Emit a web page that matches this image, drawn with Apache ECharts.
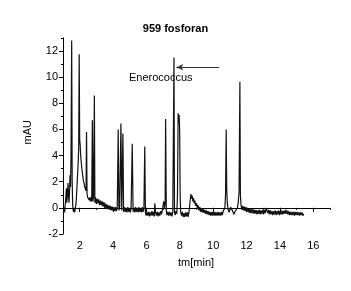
<!DOCTYPE html>
<html>
<head>
<meta charset="utf-8">
<script src="https://cdn.jsdelivr.net/npm/echarts@6/dist/echarts.min.js"></script>
<style>
  html, body { margin: 0; padding: 0; background: #fff; }
  #chart { width: 351px; height: 291px; }
</style>
</head>
<body>
<div id="chart"></div>
<script>
// Chromatogram "959 fosforan"
const timeMin = [
  1.05, 1.08, 1.1, 1.13, 1.16, 1.2, 1.23, 1.26, 1.3, 1.33, 1.36, 1.39, 1.42, 1.45, 1.48, 1.52, 1.55, 1.58, 1.62, 1.66,
  1.7, 1.74, 1.78, 1.82, 1.86, 1.9, 1.94, 1.97, 2.0, 2.03, 2.06, 2.1, 2.14, 2.18, 2.22, 2.26, 2.3, 2.34, 2.38, 2.41,
  2.44, 2.48, 2.52, 2.56, 2.6, 2.64, 2.68, 2.72, 2.76, 2.79, 2.83, 2.88, 2.91, 2.95, 3.0, 3.05, 3.1, 3.15, 3.2, 3.25,
  3.3, 3.35, 3.4, 3.45, 3.5, 3.55, 3.6, 3.65, 3.7, 3.75, 3.8, 3.85, 3.9, 3.95, 4.0, 4.05, 4.1, 4.15, 4.2, 4.25,
  4.31, 4.35, 4.4, 4.47, 4.52, 4.59, 4.63, 4.68, 4.73, 4.78, 4.83, 4.88, 4.93, 4.98, 5.03, 5.08, 5.15, 5.2, 5.25, 5.3,
  5.35, 5.4, 5.45, 5.5, 5.55, 5.6, 5.65, 5.7, 5.75, 5.8, 5.85, 5.9, 5.94, 5.98, 6.03, 6.08, 6.13, 6.18, 6.23, 6.28,
  6.33, 6.38, 6.43, 6.48, 6.5, 6.55, 6.6, 6.65, 6.7, 6.75, 6.8, 6.85, 6.9, 6.95, 7.0, 7.04, 7.08, 7.12, 7.15, 7.19,
  7.23, 7.28, 7.33, 7.38, 7.43, 7.48, 7.53, 7.58, 7.62, 7.65, 7.68, 7.72, 7.77, 7.82, 7.86, 7.9, 7.93, 7.96, 7.99, 8.02,
  8.05, 8.1, 8.15, 8.2, 8.25, 8.3, 8.35, 8.4, 8.45, 8.5, 8.55, 8.6, 8.64, 8.67, 8.7, 8.74, 8.78, 8.82, 8.86, 8.9,
  8.95, 9.0, 9.05, 9.1, 9.15, 9.2, 9.25, 9.3, 9.35, 9.4, 9.45, 9.5, 9.55, 9.6, 9.65, 9.7, 9.75, 9.8, 9.85, 9.9,
  9.95, 10.0, 10.05, 10.1, 10.15, 10.2, 10.25, 10.3, 10.35, 10.4, 10.45, 10.5, 10.55, 10.6, 10.65, 10.7, 10.74, 10.78, 10.81, 10.85,
  10.9, 10.95, 11.0, 11.05, 11.1, 11.15, 11.2, 11.25, 11.3, 11.35, 11.4, 11.45, 11.5, 11.55, 11.6, 11.63, 11.67, 11.72, 11.77, 11.82,
  11.87, 11.92, 11.97, 12.02, 12.07, 12.12, 12.17, 12.22, 12.27, 12.32, 12.37, 12.42, 12.47, 12.52, 12.57, 12.62, 12.67, 12.72, 12.77, 12.82,
  12.87, 12.92, 12.97, 13.02, 13.07, 13.12, 13.17, 13.22, 13.27, 13.32, 13.37, 13.42, 13.47, 13.52, 13.57, 13.62, 13.67, 13.72, 13.77, 13.82,
  13.87, 13.92, 13.97, 14.02, 14.07, 14.12, 14.17, 14.22, 14.27, 14.32, 14.37, 14.42, 14.47, 14.52, 14.57, 14.62, 14.67, 14.72, 14.77, 14.82,
  14.87, 14.92, 14.97, 15.02, 15.07, 15.12, 15.17, 15.22, 15.27, 15.32, 15.37, 15.42
]
const absMAU = [
  -0.25, 0.05, -0.35, 0.2, 0.6, 1.5, 0.4, 0.9, 1.9, 1.0, 0.4, 1.2, 2.5, 1.6, 4.0, 12.8, 2.0, 0.2, -0.3, 0.0,
  -0.35, 0.0, 0.3, 1.2, 2.2, 3.2, 4.5, 11.75, 5.2, 4.8, 4.0, 3.4, 2.9, 2.5, 2.1, 1.9, 1.6, 1.5, 1.3, 5.8,
  1.1, 0.8, 0.9, 0.6, 0.8, 0.5, 0.8, 0.5, 6.7, 0.5, 0.8, 8.6, 0.4, 0.8, 0.3, 0.7, 0.35, 0.65, 0.2, 0.55,
  0.2, 0.5, 0.1, 0.45, 0.0, 0.35, -0.05, 0.25, -0.1, 0.2, -0.15, 0.15, -0.2, 0.1, -0.25, 0.05, -0.25, 0.05, -0.25, 0.05,
  6.0, -0.2, 0.1, 6.45, -0.2, 5.7, -0.3, 0.05, -0.3, 0.0, -0.35, 0.05, -0.3, 0.0, -0.35, -0.05, 4.9, -0.3, 0.0, -0.35,
  0.05, -0.3, 0.0, -0.35, 0.05, -0.3, -0.05, -0.35, 0.05, -0.3, 0.0, 4.7, -0.35, -0.6, -0.3, -0.6, -0.3, -0.65, -0.35, -0.6,
  -0.25, -0.6, -0.3, -0.65, 0.35, -0.35, -0.6, -0.3, -0.65, -0.35, -0.6, -0.25, -0.5, -0.2, 0.2, 0.5, 0.0, 0.4, 6.8, -0.2,
  -0.55, -0.3, -0.6, -0.3, -0.6, -0.35, -0.65, -0.3, -0.2, 11.5, -0.3, -0.55, -0.25, -0.45, 1.0, 7.25, 6.5, 7.1, 6.0, 1.0,
  -0.3, -0.6, -0.3, -0.7, -0.4, -0.7, -0.35, -0.65, -0.35, -0.7, -0.35, 0.3, 0.8, 1.05, 0.7, 0.95, 0.5, 0.75, 0.35, 0.55,
  0.15, 0.35, 0.0, 0.2, -0.2, 0.05, -0.3, -0.05, -0.35, -0.1, -0.4, -0.15, -0.45, -0.2, -0.5, -0.25, -0.55, -0.3, -0.6, -0.3,
  -0.6, -0.3, -0.6, -0.3, -0.6, -0.35, -0.6, -0.3, -0.6, -0.35, -0.6, -0.3, -0.55, -0.25, -0.4, 0.0, 1.0, 6.0, 1.5, 0.3,
  -0.15, -0.35, -0.15, 0.05, 0.1, -0.2, -0.35, -0.5, -0.3, -0.45, -0.2, 0.0, 0.4, 1.2, 9.65, 1.0, 0.2, -0.15, 0.15, -0.2,
  0.1, -0.25, 0.05, -0.3, 0.0, -0.35, -0.05, -0.4, -0.1, -0.4, -0.1, -0.45, -0.15, -0.45, -0.15, -0.5, -0.2, -0.45, -0.15, -0.5,
  -0.2, -0.45, -0.15, -0.5, -0.15, -0.4, 0.0, -0.15, -0.4, -0.15, -0.5, -0.2, -0.5, -0.25, -0.55, -0.25, -0.5, -0.2, -0.55, -0.25,
  -0.5, -0.2, -0.55, -0.25, -0.5, -0.2, -0.5, -0.25, -0.45, -0.15, -0.45, -0.2, -0.5, -0.25, -0.55, -0.3, -0.55, -0.3, -0.55, -0.3,
  -0.6, -0.3, -0.55, -0.3, -0.55, -0.35, -0.6, -0.35, -0.55, -0.35, -0.6, -0.45
]
const xTickLabels = [2, 4, 6, 8, 10, 12, 14, 16]
const yTickLabels = [-2, 0, 2, 4, 6, 8, 10, 12]

const font = '"Liberation Sans", Arial, sans-serif'
const chart = echarts.init(document.getElementById('chart'), null, { renderer: 'canvas' })

const axisBase = {
  type: 'value',
  axisLine: { show: true, lineStyle: { color: '#000', width: 1 } },
  splitLine: { show: false },
}

chart.setOption({
  animation: false,
  backgroundColor: '#fff',
  grid: { left: 63, top: 38, right: 21, bottom: 57 },
  xAxis: [
    {
      ...axisBase, min: 1, max: 17,
      axisTick: { show: true, length: 4, lineStyle: { color: '#000' }, customValues: xTickLabels },
      axisLabel: { show: true, customValues: xTickLabels, color: '#000', fontFamily: font, fontSize: 11, margin: 6 },
    },
    {
      // minor ticks at every minute
      ...axisBase, min: 1, max: 17, interval: 1, position: 'bottom',
      axisLine: { show: false },
      axisTick: { show: true, length: 2, lineStyle: { color: '#000' } },
      axisLabel: { show: false },
    },
  ],
  yAxis: [
    {
      ...axisBase, min: -2, max: 13,
      axisTick: { show: true, length: 4, lineStyle: { color: '#000' }, customValues: yTickLabels },
      axisLabel: { show: true, customValues: yTickLabels, color: '#000', fontFamily: font, fontSize: 11, margin: 5 },
    },
    {
      ...axisBase, min: -2, max: 13, interval: 1, position: 'left',
      axisLine: { show: false },
      axisTick: { show: true, length: 2, lineStyle: { color: '#000' } },
      axisLabel: { show: false },
    },
  ],
  series: [{
    type: 'line',
    xAxisIndex: 0, yAxisIndex: 0,
    data: timeMin.map((t, i) => [t, absMAU[i]]),
    showSymbol: false,
    lineStyle: { color: '#111', width: 1.2 },
    markLine: {
      silent: true,
      symbol: ['none', 'arrow'],
      symbolSize: [5, 7],
      label: { show: false },
      lineStyle: { color: '#333', width: 1, type: 'solid' },
      data: [[{ coord: [10.36, 10.76] }, { coord: [7.79, 10.76] }]],
    },
  }],
  graphic: [
    { type: 'text', left: 'center', top: 23, x: 8,
      style: { text: '959 fosforan', font: 'bold 11px ' + font, fill: '#000' } },
    { type: 'text', left: 129, top: 72,
      style: { text: 'Enerococcus', font: '11px ' + font, fill: '#000' } },
    { type: 'text', left: 22, top: 120, rotation: Math.PI / 2,
      style: { text: 'mAU', font: '11px ' + font, fill: '#000' } },
    { type: 'text', left: 178, top: 257,
      style: { text: 'tm[min]', font: '11px ' + font, fill: '#000' } },
  ],
})
</script>
</body>
</html>
